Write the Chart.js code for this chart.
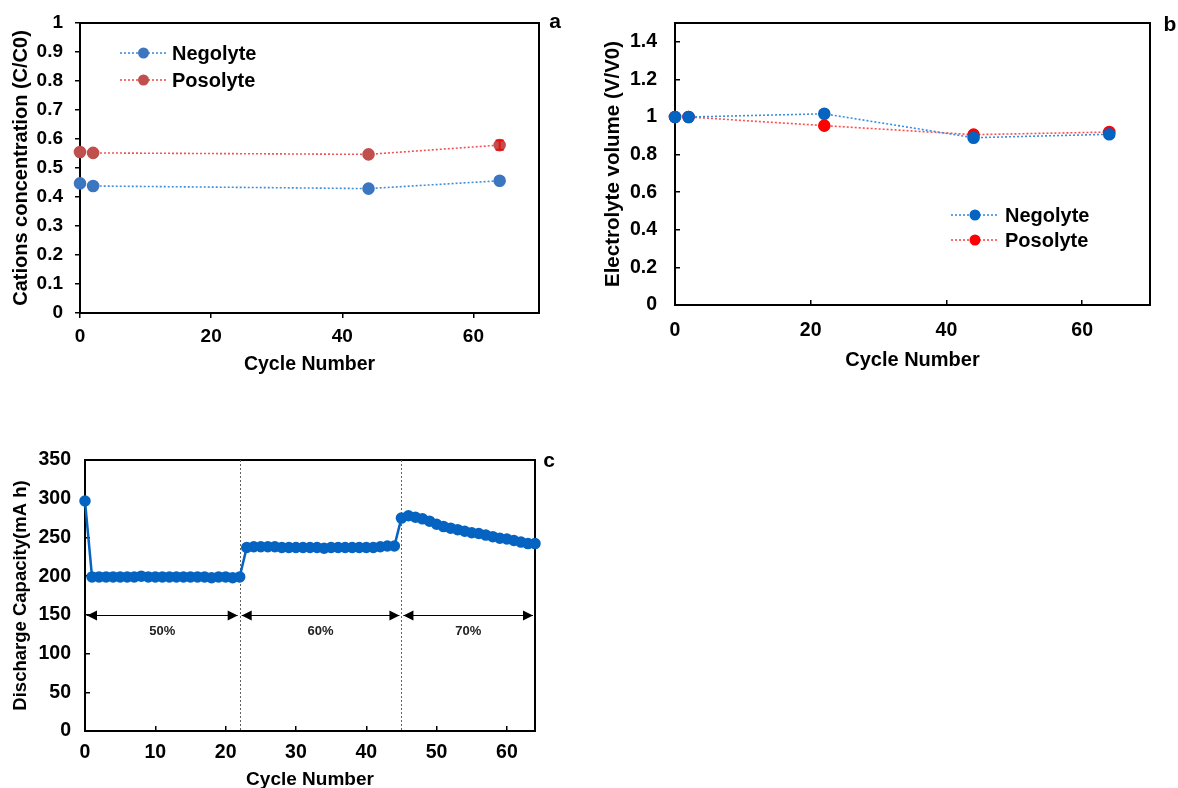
<!DOCTYPE html>
<html>
<head>
<meta charset="utf-8">
<script src="https://cdn.jsdelivr.net/npm/chart.js@4.4.1/dist/chart.umd.min.js"></script>
<style>
  body { margin: 0; background: #fff; width: 1178px; height: 788px; overflow: hidden; position: relative; }
  canvas { position: absolute; }
</style>
</head>
<body>
<canvas id="chartA" width="590" height="390" style="left:0px;top:0px"></canvas>
<canvas id="chartB" width="588" height="390" style="left:590px;top:0px"></canvas>
<canvas id="chartC" width="590" height="360" style="left:0px;top:440px"></canvas>
<script>
// panel a - cations concentration
const cyclesA = [0, 2, 44, 64];
const negolyteA = [0.447, 0.438, 0.429, 0.456];
const posolyteA = [0.555, 0.552, 0.547, 0.579];
const posolyteErrA = [0, 0, 0, 0.016];

// panel b - electrolyte volume
const cyclesB = [0, 2, 22, 44, 64];
const negolyteB = [1.0, 1.0, 1.017, 0.89, 0.908];
const posolyteB = [1.0, 1.0, 0.954, 0.906, 0.92];

// panel c - discharge capacity, one value per cycle from 0
const capacity = [
  297,
  199, 199, 199, 199, 199, 199, 199, 200, 199, 199, 199,
  199, 199, 199, 199, 199, 199, 198, 199, 199, 198, 199,
  237, 238, 238, 238, 238, 237, 237, 237, 237, 237, 237,
  236, 237, 237, 237, 237, 237, 237, 237, 238, 239, 239,
  275, 278, 276, 274, 271, 267, 264, 262, 260, 258,
  256, 255, 253, 251, 249, 248, 246, 244, 242, 242
];
const socBreaks = [22, 45];
const socStarts = [0, 22, 45];
const socEnds = [22, 45, 64];
const socLabels = ['50%', '60%', '70%'];

const FONT = '"Liberation Sans", Arial, sans-serif';
function bold(size) {
  return { family: FONT, size: size, weight: 'bold' };
}

function toPoints(xs, ys) {
  return xs.map((x, i) => ({ x: x, y: ys[i] }));
}

function fmt(v) {
  return String(Math.round(v * 10) / 10);
}

// fixed axis sizes, no extra label padding pushed into the chart area
function fixY(w) {
  return s => { s.width = w; s.paddingTop = 0; s.paddingBottom = 0; };
}
function fixX(h) {
  return s => { s.height = h; s.paddingLeft = 0; s.paddingRight = 0; };
}

// box around the plot and the panel letter
function framePlugin(letter, lx, ly) {
  return {
    id: 'frame' + letter,
    beforeDatasetsDraw(chart) {
      const ctx = chart.ctx, a = chart.chartArea;
      ctx.save();
      ctx.strokeStyle = '#000';
      ctx.lineWidth = 2;
      ctx.strokeRect(a.left, a.top, a.right - a.left, a.bottom - a.top);
      ctx.restore();
    },
    afterDraw(chart) {
      const ctx = chart.ctx;
      ctx.save();
      ctx.fillStyle = '#000';
      ctx.font = 'bold 21px ' + FONT;
      ctx.textAlign = 'center';
      ctx.textBaseline = 'middle';
      ctx.fillText(letter, lx, ly);
      ctx.restore();
    }
  };
}

// legend drawn inside the plot
function legendPlugin(id, x1, x2, tx, ys, r, size) {
  return {
    id: id,
    afterDraw(chart) {
      const ctx = chart.ctx;
      ctx.save();
      chart.data.datasets.forEach((ds, i) => {
        const y = ys[i];
        ctx.strokeStyle = ds.borderColor;
        ctx.lineWidth = ds.borderWidth;
        ctx.setLineDash(ds.borderDash || []);
        ctx.beginPath();
        ctx.moveTo(x1, y);
        ctx.lineTo(x2, y);
        ctx.stroke();
        ctx.setLineDash([]);
        ctx.fillStyle = ds.pointBackgroundColor;
        ctx.beginPath();
        ctx.arc((x1 + x2) / 2, y, r, 0, Math.PI * 2);
        ctx.fill();
        ctx.fillStyle = '#000';
        ctx.font = 'bold ' + size + 'px ' + FONT;
        ctx.textAlign = 'left';
        ctx.textBaseline = 'middle';
        ctx.fillText(ds.label, tx, y + 1);
      });
      ctx.restore();
    }
  };
}

const errorBarPlugin = {
  id: 'errA',
  afterDatasetsDraw(chart) {
    const ctx = chart.ctx, xs = chart.scales.x, ys = chart.scales.y;
    ctx.save();
    ctx.strokeStyle = '#e81010';
    ctx.lineWidth = 2;
    cyclesA.forEach((c, i) => {
      const e = posolyteErrA[i];
      if (!e) return;
      const px = xs.getPixelForValue(c);
      const y1 = ys.getPixelForValue(posolyteA[i] - e);
      const y2 = ys.getPixelForValue(posolyteA[i] + e);
      ctx.beginPath();
      ctx.moveTo(px, y1); ctx.lineTo(px, y2);
      ctx.moveTo(px - 4, y1); ctx.lineTo(px + 4, y1);
      ctx.moveTo(px - 4, y2); ctx.lineTo(px + 4, y2);
      ctx.stroke();
    });
    ctx.restore();
  }
};

const socPlugin = {
  id: 'soc',
  beforeDatasetsDraw(chart) {
    const ctx = chart.ctx, xs = chart.scales.x, ys = chart.scales.y, a = chart.chartArea;
    ctx.save();
    // dotted separators
    ctx.strokeStyle = '#606060';
    ctx.lineWidth = 1;
    ctx.setLineDash([2, 2]);
    socBreaks.forEach(b => {
      const px = Math.round(xs.getPixelForValue(b)) + 0.5;
      ctx.beginPath();
      ctx.moveTo(px, a.top);
      ctx.lineTo(px, a.bottom);
      ctx.stroke();
    });
    ctx.setLineDash([]);
    // double arrows
    const py = Math.round(ys.getPixelForValue(150)) + 0.5;
    const head = 10, half = 5;
    ctx.strokeStyle = '#000';
    socStarts.forEach((s, i) => {
      const l = xs.getPixelForValue(s) + 2;
      const r = xs.getPixelForValue(socEnds[i]) - 2;
      ctx.fillStyle = '#000';
      ctx.beginPath();
      ctx.moveTo(l, py); ctx.lineTo(r, py);
      ctx.stroke();
      ctx.beginPath();
      ctx.moveTo(l, py); ctx.lineTo(l + head, py - half); ctx.lineTo(l + head, py + half); ctx.closePath();
      ctx.fill();
      ctx.beginPath();
      ctx.moveTo(r, py); ctx.lineTo(r - head, py - half); ctx.lineTo(r - head, py + half); ctx.closePath();
      ctx.fill();
      ctx.font = 'bold 13px ' + FONT;
      ctx.fillStyle = '#222';
      ctx.textAlign = 'center';
      ctx.textBaseline = 'middle';
      ctx.fillText(socLabels[i], xs.getPixelForValue((s + socEnds[i]) / 2), ys.getPixelForValue(128));
    });
    ctx.restore();
  }
};

function axisGrid(len) {
  return { display: true, drawOnChartArea: false, drawTicks: true, tickLength: len, color: '#000', lineWidth: 1.5 };
}

// ---- chart a ----
new Chart(document.getElementById('chartA'), {
  type: 'line',
  data: {
    datasets: [
      {
        label: 'Negolyte', data: toPoints(cyclesA, negolyteA),
        borderColor: '#3f8fdd', borderWidth: 1.6, borderDash: [2, 2],
        pointBackgroundColor: '#3c76c0', pointBorderColor: '#3c76c0', pointRadius: 5.5, clip: false
      },
      {
        label: 'Posolyte', data: toPoints(cyclesA, posolyteA),
        borderColor: '#f45252', borderWidth: 1.6, borderDash: [2, 2],
        pointBackgroundColor: '#c0504d', pointBorderColor: '#c0504d', pointRadius: 5.5, clip: false
      }
    ]
  },
  options: {
    responsive: false, animation: false, events: [],
    layout: { padding: { left: 0, top: 23, right: 51, bottom: 0 } },
    plugins: { legend: { display: false }, tooltip: { enabled: false } },
    scales: {
      x: {
        type: 'linear', min: 0, max: 70,
        afterFit: fixX(77),
        ticks: { stepSize: 20, includeBounds: false, font: bold(19), color: '#000', padding: 7 },
        grid: axisGrid(5), border: { display: false },
        title: { display: true, text: 'Cycle Number', font: bold(19.5), color: '#000', padding: { top: 0, bottom: 14 } }
      },
      y: {
        min: 0, max: 1,
        afterFit: fixY(80),
        ticks: { stepSize: 0.1, includeBounds: false, font: bold(19), color: '#000', padding: 12, callback: fmt },
        grid: axisGrid(5), border: { display: false },
        title: { display: true, text: 'Cations concentration (C/C0)', font: bold(20), color: '#000', padding: { top: 9, bottom: 0 } }
      }
    }
  },
  plugins: [framePlugin('a', 555, 22), legendPlugin('legA', 120, 167, 172, [53, 80], 5.5, 20), errorBarPlugin]
});

// ---- chart b ----
new Chart(document.getElementById('chartB'), {
  type: 'line',
  data: {
    datasets: [
      {
        label: 'Negolyte', data: toPoints(cyclesB, negolyteB),
        borderColor: '#3a8ee0', borderWidth: 1.6, borderDash: [2, 2],
        pointBackgroundColor: '#0563c1', pointBorderColor: '#0563c1', pointRadius: 5.5, clip: false
      },
      {
        label: 'Posolyte', data: toPoints(cyclesB, posolyteB),
        borderColor: '#ff4d4d', borderWidth: 1.6, borderDash: [2, 2],
        pointBackgroundColor: '#ff0000', pointBorderColor: '#ff0000', pointRadius: 5.5, clip: false
      }
    ]
  },
  options: {
    responsive: false, animation: false, events: [],
    layout: { padding: { left: 0, top: 23, right: 28, bottom: 0 } },
    plugins: { legend: { display: false }, tooltip: { enabled: false } },
    scales: {
      x: {
        type: 'linear', min: 0, max: 70,
        afterFit: fixX(85),
        ticks: { stepSize: 20, includeBounds: false, font: bold(19.5), color: '#000', padding: 19 },
        grid: axisGrid(-5), border: { display: false },
        title: { display: true, text: 'Cycle Number', font: bold(20), color: '#000', padding: { top: 0, bottom: 18 } }
      },
      y: {
        min: 0, max: 1.5,
        afterFit: fixY(85),
        ticks: { stepSize: 0.2, includeBounds: false, font: bold(19.5), color: '#000', padding: 23, callback: fmt },
        grid: axisGrid(-5), border: { display: false },
        title: { display: true, text: 'Electrolyte volume (V/V0)', font: bold(20.5), color: '#000', padding: { top: 11, bottom: 0 } }
      }
    }
  },
  plugins: [framePlugin('b', 580, 25), legendPlugin('legB', 361, 409, 415, [215, 240], 5.5, 20)]
});

// ---- chart c ----
new Chart(document.getElementById('chartC'), {
  type: 'line',
  data: {
    datasets: [
      {
        label: 'Discharge', data: capacity.map((v, i) => ({ x: i, y: v })),
        borderColor: '#0563c1', borderWidth: 2.5,
        pointBackgroundColor: '#0563c1', pointBorderColor: '#0563c1', pointRadius: 4.5, clip: false
      }
    ]
  },
  options: {
    responsive: false, animation: false, events: [],
    layout: { padding: { left: 0, top: 20, right: 55, bottom: 0 } },
    plugins: { legend: { display: false }, tooltip: { enabled: false } },
    scales: {
      x: {
        type: 'linear', min: 0, max: 64,
        afterFit: fixX(69),
        ticks: { stepSize: 10, includeBounds: false, font: bold(19.5), color: '#000', padding: 15 },
        grid: axisGrid(-5), border: { display: false },
        title: { display: true, text: 'Cycle Number', font: bold(19), color: '#000', padding: { top: 0, bottom: 9 } }
      },
      y: {
        min: 0, max: 350,
        afterFit: fixY(85),
        ticks: { stepSize: 50, includeBounds: false, font: bold(19.5), color: '#000', padding: 19 },
        grid: axisGrid(-5), border: { display: false },
        title: { display: true, text: 'Discharge Capacity(mA h)', font: bold(18.5), color: '#000', padding: { top: 10, bottom: 0 } }
      }
    }
  },
  plugins: [framePlugin('c', 549, 21), socPlugin]
});
</script>
</body>
</html>
